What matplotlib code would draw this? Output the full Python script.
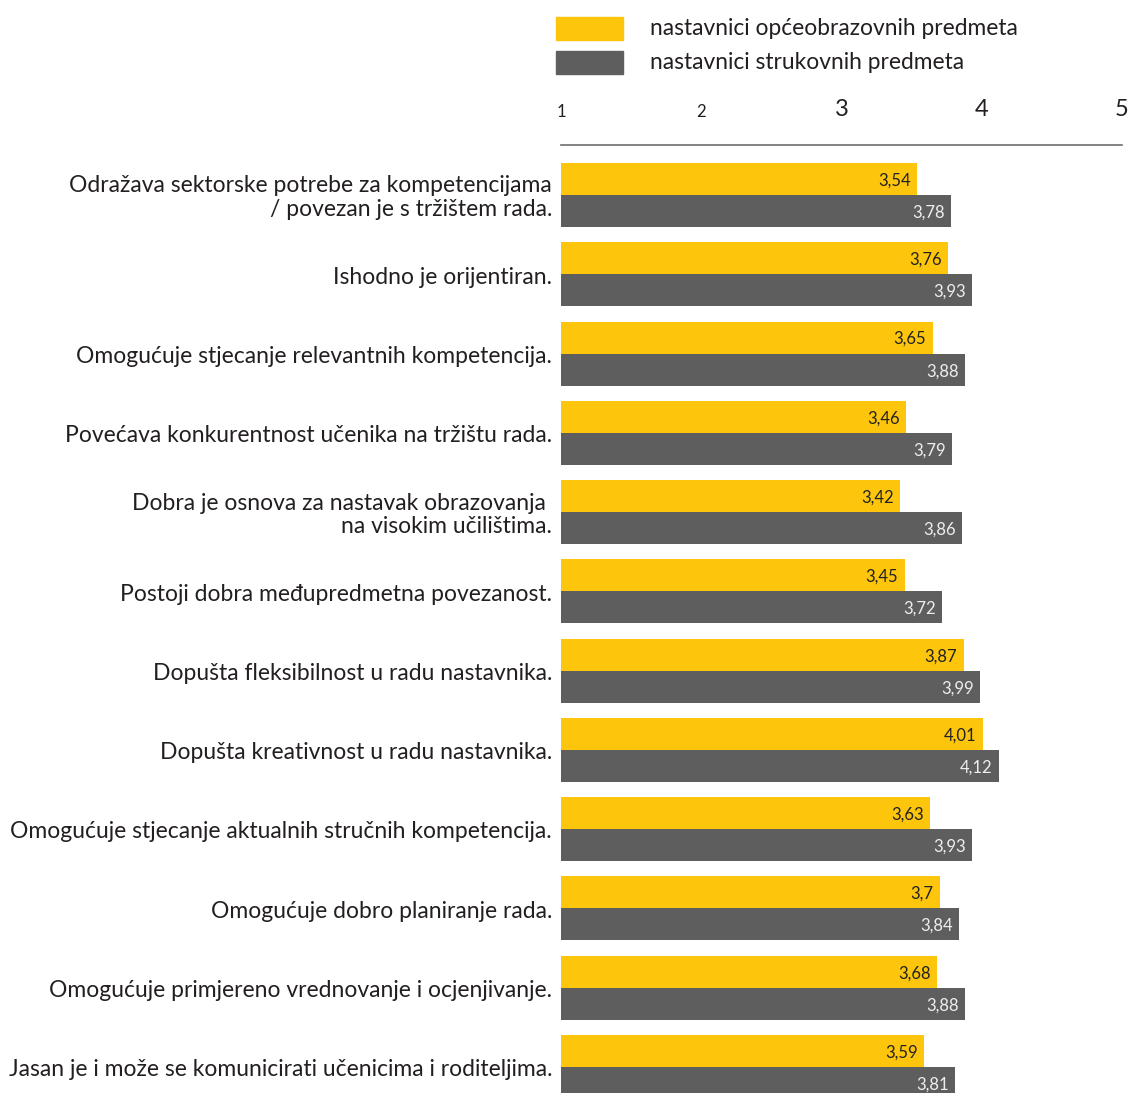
import matplotlib
matplotlib.use("Agg")
import matplotlib.pyplot as plt
import numpy as np
from matplotlib.patches import Rectangle

plt.rcParams['font.family'] = ['Lato', 'DejaVu Sans']

# tvrdnje o kurikulumu, odozgo prema dolje
kategorije = [
    "Odražava sektorske potrebe za kompetencijama\n/ povezan je s tržištem rada.",
    "Ishodno je orijentiran.",
    "Omogućuje stjecanje relevantnih kompetencija.",
    "Povećava konkurentnost učenika na tržištu rada.",
    "Dobra je osnova za nastavak obrazovanja \nna visokim učilištima.",
    "Postoji dobra međupredmetna povezanost.",
    "Dopušta fleksibilnost u radu nastavnika.",
    "Dopušta kreativnost u radu nastavnika.",
    "Omogućuje stjecanje aktualnih stručnih kompetencija.",
    "Omogućuje dobro planiranje rada.",
    "Omogućuje primjereno vrednovanje i ocjenjivanje.",
    "Jasan je i može se komunicirati učenicima i roditeljima.",
]
opceobrazovni = [3.54, 3.76, 3.65, 3.46, 3.42, 3.45, 3.87, 4.01, 3.63, 3.7, 3.68, 3.59]
strukovni = [3.78, 3.93, 3.88, 3.79, 3.86, 3.72, 3.99, 4.12, 3.93, 3.84, 3.88, 3.81]
serije = ["nastavnici općeobrazovnih predmeta", "nastavnici strukovnih predmeta"]
skala = [1, 2, 3, 4, 5]

zuta = '#FDC50C'
siva = '#5E5E5E'

W, H = 1131, 1093
fig = plt.figure(figsize=(W / 100, H / 100), dpi=100)
ax = fig.add_axes([561 / W, 0, (1122 - 561) / W, (H - 145) / H])

y = np.arange(len(kategorije))
h = 0.404
ax.barh(y - h / 2, opceobrazovni, height=h, color=zuta)
ax.barh(y + h / 2, strukovni, height=h, color=siva)

def oznaka(v):
    return ('%g' % v).replace('.', ',')

for i in range(len(y)):
    ax.text(opceobrazovni[i] - 0.045, y[i] - h / 2 + 0.02, oznaka(opceobrazovni[i]),
            ha='right', va='center', fontsize=12, color='#222222')
    ax.text(strukovni[i] - 0.045, y[i] + h / 2 + 0.02, oznaka(strukovni[i]),
            ha='right', va='center', fontsize=12, color='#EEEEEE')
    ax.text(-0.016, y[i] + 0.035, kategorije[i], transform=ax.get_yaxis_transform(),
            ha='right', va='center', fontsize=16.5, color='#231F20', linespacing=1.15)

ax.set_xlim(1, 5)
ax.set_ylim((H - 195) / 79.27, -50 / 79.27)

for s in ['left', 'right', 'bottom']:
    ax.spines[s].set_visible(False)
ax.spines['top'].set_color('#6E6E6E')
ax.spines['top'].set_linewidth(1.2)
ax.set_yticks([])
ax.xaxis.tick_top()
ax.set_xticks(skala)
ax.set_xticklabels([str(v) for v in skala], color='#231F20')
ax.tick_params(axis='x', length=0, pad=18)
for lbl, fs in zip(ax.get_xticklabels(), [12, 12, 17, 17, 17]):
    lbl.set_fontsize(fs)
    lbl.set_clip_on(False)

# legenda
for k, (naziv, boja) in enumerate(zip(serije, [zuta, siva])):
    y0 = 17 + k * 34
    fig.patches.append(Rectangle((556 / W, 1 - (y0 + 23) / H), 67 / W, 23 / H,
                                 transform=fig.transFigure, color=boja))
    fig.text(650 / W, 1 - (y0 + 11.5) / H, naziv, ha='left', va='center',
             fontsize=16.4, color='#231F20')

fig.savefig("out.png", dpi=100)
